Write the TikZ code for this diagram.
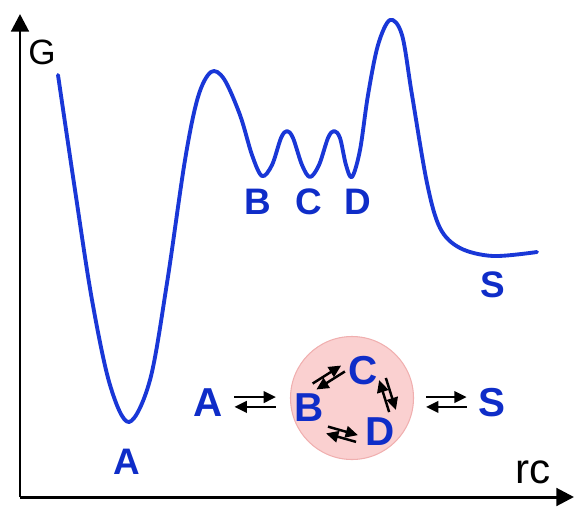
\documentclass[tikz,border=0pt]{standalone}
\usepackage{fontspec}
\setmainfont{Liberation Sans}
\usepackage{tikz}
\usetikzlibrary{arrows.meta,positioning,calc}

\definecolor{curveblue}{RGB}{25,55,215}
\definecolor{labelblue}{RGB}{15,45,200}
\definecolor{cycfill}{RGB}{250,208,208}
\definecolor{cycdraw}{RGB}{240,175,175}

% pair of opposite arrows between two points
\newcommand{\eqpair}[3][2.4pt]{%
  \draw[eqarr] ($(#2)!#1!90:(#3)$) -- ($(#3)!#1!-90:(#2)$);
  \draw[eqarr] ($(#3)!#1!90:(#2)$) -- ($(#2)!#1!-90:(#3)$);}

\begin{document}
\begin{tikzpicture}[x=0.02cm, y=-0.02cm,
  axis/.style={line width=1.7pt, -{Triangle[length=10pt,width=10pt]}},
  energy/.style={curveblue, line width=2.2pt, line join=round, line cap=round},
  state/.style={labelblue, font=\bfseries\fontsize{21}{21}\selectfont, inner sep=2pt},
  species/.style={labelblue, font=\bfseries\fontsize{23}{23}\selectfont, inner sep=2pt},
  eqarr/.style={line width=1.4pt, -{Triangle[length=7pt,width=6.5pt]}}]

\useasboundingbox (0,0) rectangle (574,507);

% axes
\coordinate (origin) at (20,497);
\coordinate (ytop) at (20,14);
\coordinate (xend) at (574,497);
\draw[axis] (origin) -- (ytop);
\draw[axis] (origin) -- (xend);
\node[font=\fontsize{20}{20}\selectfont] (G) at (42,52) {G};
\node[font=\fontsize{24}{24}\selectfont] (rc) at (533,472) {rc};

% free energy profile
\draw[energy] plot[smooth, tension=0.55] coordinates {
  (58,75) (75,190) (92,300) (110,385) (129,422) (150,380) (167,283)
  (185,160) (198,97) (211,72) (224,79) (240,115)
  (252,155) (262,176) (272,165) (281,138) (287,131) (293,138) (302,165)
  (310,177) (319,165) (328,138) (334,131) (340,138) (346,165) (352,177)
  (360,150) (368,95) (378,45) (390,20) (402,35) (412,95) (427,183)
  (440,228) (460,248) (493,256) (537,252)};

\node[state] (A) at (127,462) {A};
\node[state] (B) at (258,202) {B};
\node[state] (C) at (309,202) {C};
\node[state] (D) at (358,202) {D};
\node[state] (S) at (493,285) {S};

% kinetic scheme
\node[circle, fill=cycfill, draw=cycdraw, line width=0.6pt, minimum size=123*0.02cm] (cyc) at (352,398) {};
\node[species] (A2) at (208,403) {A};
\node[species] (S2) at (492,403) {S};
\node[species] (Bc) at (309,408) {B};
\node[species] (Cc) at (363,371) {C};
\node[species] (Dc) at (380,432) {D};

\eqpair[2.8pt]{$(A2.east)+(8,-1)$}{$(cyc.west |- A2.east)+(-14,-1)$}
\eqpair[2.8pt]{$(cyc.east |- S2.west)+(12,-1)$}{$(S2.west)+(-8,-1)$}
\eqpair[2pt]{$(Bc)+(5.5,-21.5)$}{$(Cc)+(-20,-2.5)$}
\eqpair[2pt]{$(Cc)+(19.5,8)$}{$(Dc)+(12.5,-21)$}
\eqpair[2pt]{$(Bc)+(18,22)$}{$(Dc)+(-23,6.5)$}

\end{tikzpicture}
\end{document}
